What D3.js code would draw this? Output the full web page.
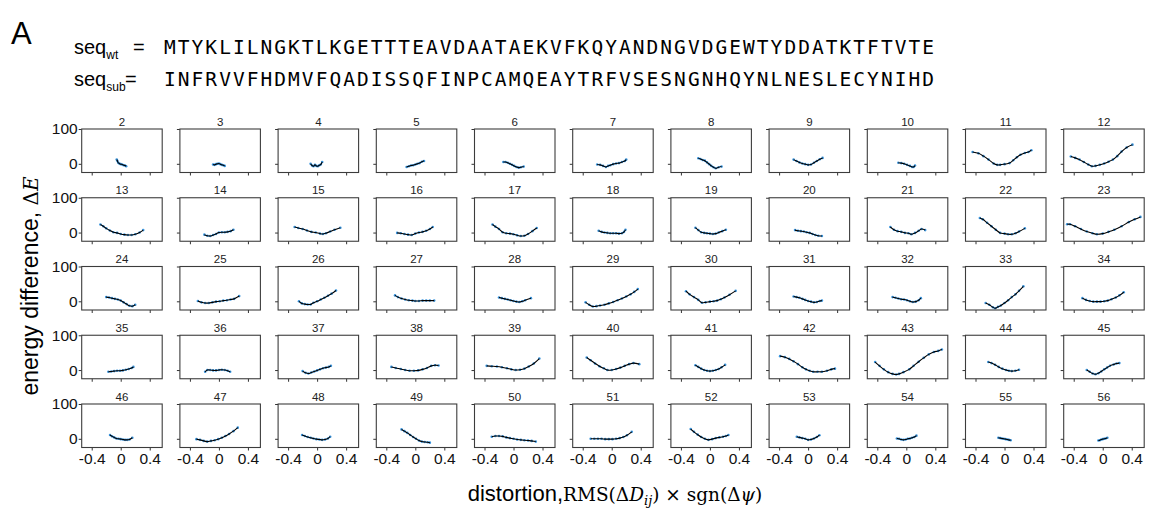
<!DOCTYPE html>
<html><head><meta charset="utf-8">
<script src="https://cdn.jsdelivr.net/npm/d3@7"></script>
<style>body{margin:0;background:#fff} svg{display:block}</style>
</head><body><svg id="c" width="1152" height="512"></svg>
<script>
const panelIds = [2,3,4,5,6,7,8,9,10,11,12,13,14,15,16,17,18,19,20,21,22,23,24,25,26,27,28,29,30,31,32,33,34,35,36,37,38,39,40,41,42,43,44,45,46,47,48,49,50,51,52,53,54,55,56];
const xTicks = [-0.4, 0, 0.4];
const yTicks = [0, 100];
const seqWt  = "MTYKLILNGKTLKGETTTEAVDAATAEKVFKQYANDNGVDGEWTYDDATKTFTVTE";
const seqSub = "INFRVVFHDMVFQADISSQFINPCAMQEAYTRFVSESNGNHQYNLNESLECYNIHD";

// [distortion, energy difference] per panel, rows of 11 panels
const row1 = [
 [[-0.055,12],[-0.045,8],[-0.035,3],[-0.02,1],[0,-1],[0.02,-2],[0.04,-4],[0.06,-5],[0.075,-7]],
 [[-0.08,-2],[-0.06,-3],[-0.04,-1],[-0.02,0],[0,1],[0.02,-1],[0.04,-3],[0.06,-4],[0.08,-6]],
 [[-0.09,0],[-0.07,-5],[-0.05,-7],[-0.03,-3],[-0.01,-6],[0.01,-7],[0.03,-4],[0.05,-2],[0.07,5]],
 [[-0.12,-9],[-0.09,-7],[-0.06,-5],[-0.03,-4],[0,-2],[0.03,0],[0.06,2],[0.09,6],[0.12,8]],
 [[-0.14,5],[-0.11,5],[-0.08,3],[-0.05,0],[-0.02,-3],[0.01,-6],[0.04,-9],[0.07,-11],[0.1,-10],[0.14,-8]],
 [[-0.2,-2],[-0.16,-3],[-0.12,-6],[-0.08,-9],[-0.05,-6],[-0.02,-4],[0.02,-1],[0.06,1],[0.1,2],[0.14,5],[0.18,8],[0.2,12]],
 [[-0.16,16],[-0.13,14],[-0.1,11],[-0.07,9],[-0.04,4],[-0.01,-1],[0.02,-6],[0.05,-10],[0.08,-13],[0.12,-10],[0.16,-8]],
 [[-0.2,12],[-0.16,8],[-0.12,4],[-0.08,1],[-0.04,-1],[0,-3],[0.04,-2],[0.08,3],[0.12,8],[0.16,13],[0.2,17]],
 [[-0.11,3],[-0.07,2],[-0.03,0],[0.01,-3],[0.05,-6],[0.08,-9],[0.1,-9],[0.12,-5]],
 [[-0.44,34],[-0.36,30],[-0.29,22],[-0.22,12],[-0.15,1],[-0.1,-3],[-0.06,-3],[0,-1],[0.07,2],[0.12,10],[0.17,19],[0.22,26],[0.28,31],[0.33,34],[0.37,39]],
 [[-0.44,21],[-0.38,17],[-0.32,12],[-0.26,5],[-0.2,-2],[-0.15,-7],[-0.1,-6],[-0.04,-3],[0.02,1],[0.08,6],[0.14,12],[0.2,22],[0.26,35],[0.33,47],[0.41,55]]
];
const row2 = [
 [[-0.28,23],[-0.24,18],[-0.2,12],[-0.15,6],[-0.1,1],[-0.05,-1],[0,-4],[0.05,-6],[0.1,-7],[0.15,-7],[0.2,-5],[0.26,0],[0.31,7]],
 [[-0.2,-6],[-0.16,-9],[-0.12,-10],[-0.08,-7],[-0.04,-4],[0,0],[0.04,1],[0.08,1],[0.12,2],[0.16,4],[0.2,8]],
 [[-0.31,16],[-0.26,13],[-0.2,10],[-0.14,6],[-0.08,2],[-0.02,0],[0.04,-3],[0.08,-4],[0.12,-2],[0.18,3],[0.24,8],[0.32,14]],
 [[-0.25,-1],[-0.2,-2],[-0.15,-4],[-0.1,-6],[-0.05,-7],[0,-3],[0.05,0],[0.1,2],[0.15,5],[0.2,10],[0.24,16]],
 [[-0.29,23],[-0.25,17],[-0.2,10],[-0.15,1],[-0.1,-2],[-0.05,-3],[0,-5],[0.05,-8],[0.1,-10],[0.15,-9],[0.2,-4],[0.26,4],[0.32,13]],
 [[-0.18,5],[-0.14,2],[-0.1,0],[-0.06,-1],[-0.02,-2],[0.02,-2],[0.06,-2],[0.1,-3],[0.14,-2],[0.17,2],[0.19,8]],
 [[-0.2,14],[-0.16,7],[-0.12,1],[-0.08,-1],[-0.04,-2],[0,-3],[0.04,-4],[0.08,-3],[0.12,0],[0.17,4],[0.22,8]],
 [[-0.18,7],[-0.14,5],[-0.1,4],[-0.06,3],[-0.02,1],[0.02,-1],[0.06,-4],[0.1,-7],[0.14,-9],[0.19,-10]],
 [[-0.22,16],[-0.17,8],[-0.12,4],[-0.07,2],[-0.02,-1],[0.03,-2],[0.07,-5],[0.12,-1],[0.17,5],[0.21,10],[0.26,7]],
 [[-0.34,42],[-0.3,38],[-0.24,28],[-0.18,18],[-0.12,8],[-0.06,-1],[0,-3],[0.05,-5],[0.1,-5],[0.15,-2],[0.2,3],[0.28,12]],
 [[-0.49,24],[-0.45,24],[-0.38,18],[-0.3,10],[-0.22,3],[-0.14,-2],[-0.08,-5],[0,-3],[0.08,2],[0.16,8],[0.26,18],[0.36,30],[0.44,38],[0.52,45]]
];
const row3 = [
 [[-0.2,12],[-0.16,11],[-0.12,9],[-0.08,7],[-0.04,5],[0,2],[0.04,-3],[0.08,-8],[0.12,-13],[0.16,-14],[0.2,-10]],
 [[-0.29,1],[-0.24,-3],[-0.19,-5],[-0.14,-5],[-0.09,-3],[-0.04,-1],[0.01,0],[0.06,2],[0.11,3],[0.16,5],[0.21,7],[0.28,15]],
 [[-0.25,0],[-0.21,-6],[-0.17,-8],[-0.13,-9],[-0.09,-9],[-0.05,-4],[0,0],[0.05,5],[0.1,10],[0.15,16],[0.2,22],[0.26,31]],
 [[-0.28,17],[-0.24,12],[-0.19,8],[-0.14,5],[-0.09,3],[-0.04,2],[0,1],[0.05,1],[0.1,2],[0.15,2],[0.2,2],[0.26,2]],
 [[-0.2,11],[-0.16,9],[-0.12,7],[-0.08,5],[-0.04,3],[0,1],[0.04,-1],[0.08,-2],[0.12,0],[0.16,3],[0.24,9]],
 [[-0.36,-3],[-0.31,-10],[-0.26,-15],[-0.21,-14],[-0.16,-12],[-0.1,-10],[-0.04,-6],[0.02,-2],[0.08,3],[0.14,8],[0.2,14],[0.26,20],[0.31,27],[0.36,35]],
 [[-0.33,29],[-0.28,20],[-0.22,12],[-0.16,4],[-0.11,-4],[-0.06,-3],[0,-1],[0.05,0],[0.1,2],[0.15,6],[0.2,11],[0.27,19],[0.355,30]],
 [[-0.2,14],[-0.16,12],[-0.12,10],[-0.08,7],[-0.04,4],[0,1],[0.04,-1],[0.08,-3],[0.12,-2],[0.16,1],[0.19,2]],
 [[-0.19,12],[-0.15,10],[-0.11,8],[-0.07,6],[-0.03,5],[0.01,3],[0.05,0],[0.09,-2],[0.13,-1],[0.17,3],[0.2,9]],
 [[-0.26,-5],[-0.21,-10],[-0.16,-17],[-0.13,-20],[-0.09,-16],[-0.05,-12],[0,-5],[0.05,3],[0.1,12],[0.15,20],[0.2,30],[0.26,43]],
 [[-0.28,9],[-0.23,4],[-0.18,1],[-0.13,-1],[-0.08,-1],[-0.03,-1],[0.02,0],[0.07,2],[0.12,6],[0.18,11],[0.23,17],[0.29,26]]
];
const row4 = [
 [[-0.17,-5],[-0.13,-4],[-0.09,-3],[-0.05,-2],[-0.01,-2],[0.03,-1],[0.07,1],[0.11,3],[0.15,6],[0.175,9]],
 [[-0.19,-5],[-0.16,0],[-0.12,0],[-0.08,-1],[-0.04,-1],[0,0],[0.04,1],[0.08,0],[0.12,-2],[0.155,-5]],
 [[-0.2,-3],[-0.16,-8],[-0.12,-10],[-0.08,-7],[-0.04,-4],[0,-1],[0.04,2],[0.08,5],[0.12,7],[0.16,9],[0.19,12]],
 [[-0.33,9],[-0.27,6],[-0.2,3],[-0.14,0],[-0.08,-2],[-0.02,-2],[0.04,-1],[0.1,2],[0.16,6],[0.22,12],[0.27,14],[0.32,13]],
 [[-0.37,12],[-0.3,11],[-0.23,10],[-0.16,8],[-0.09,5],[-0.03,2],[0.03,0],[0.09,1],[0.15,4],[0.21,10],[0.28,19],[0.356,33]],
 [[-0.345,36],[-0.29,28],[-0.23,19],[-0.17,11],[-0.11,5],[-0.06,0],[0,0],[0.06,3],[0.12,7],[0.18,12],[0.24,17],[0.3,20],[0.38,17]],
 [[-0.2,14],[-0.16,9],[-0.12,4],[-0.08,0],[-0.04,-2],[0,-3],[0.04,-2],[0.08,0],[0.12,3],[0.16,8],[0.21,15]],
 [[-0.386,40],[-0.32,37],[-0.26,32],[-0.2,25],[-0.14,17],[-0.08,8],[-0.03,2],[0.02,-2],[0.07,-5],[0.13,-5],[0.19,-5],[0.26,-2],[0.32,2],[0.37,4]],
 [[-0.43,23],[-0.37,12],[-0.31,2],[-0.25,-6],[-0.19,-11],[-0.14,-13],[-0.1,-11],[-0.04,-6],[0.04,2],[0.1,12],[0.17,24],[0.24,35],[0.31,45],[0.38,52],[0.44,55],[0.49,59]],
 [[-0.224,23],[-0.18,20],[-0.13,15],[-0.08,9],[-0.03,4],[0.02,0],[0.06,-2],[0.1,-3],[0.15,-2],[0.2,1]],
 [[-0.22,0],[-0.18,-5],[-0.14,-10],[-0.1,-12],[-0.06,-9],[-0.02,-4],[0.02,2],[0.06,7],[0.1,12],[0.15,16],[0.19,19],[0.23,20]]
];
const row5 = [
 [[-0.147,11],[-0.12,7],[-0.09,4],[-0.06,1],[-0.03,0],[0,-1],[0.03,-2],[0.06,-3],[0.09,-3],[0.12,-2],[0.16,3]],
 [[-0.31,-1],[-0.26,-3],[-0.21,-6],[-0.16,-8],[-0.11,-6],[-0.06,-4],[-0.01,-1],[0.04,3],[0.09,8],[0.14,14],[0.2,22],[0.26,32]],
 [[-0.207,11],[-0.17,8],[-0.13,5],[-0.09,3],[-0.05,1],[-0.01,-1],[0.03,-2],[0.07,-3],[0.11,-2],[0.15,1],[0.18,6]],
 [[-0.19,27],[-0.15,22],[-0.11,17],[-0.07,11],[-0.03,5],[0.01,0],[0.05,-5],[0.09,-8],[0.13,-9],[0.17,-10],[0.2,-11]],
 [[-0.3,6],[-0.25,8],[-0.2,8],[-0.15,7],[-0.1,4],[-0.05,2],[0,0],[0.05,-2],[0.1,-3],[0.15,-4],[0.2,-5],[0.25,-6],[0.306,-8]],
 [[-0.29,0],[-0.24,0],[-0.19,0],[-0.14,0],[-0.09,-1],[-0.04,-1],[0.01,-1],[0.06,0],[0.11,2],[0.16,5],[0.21,10],[0.276,20]],
 [[-0.265,28],[-0.22,20],[-0.17,12],[-0.12,5],[-0.07,0],[-0.02,-3],[0.03,-1],[0.08,2],[0.13,4],[0.18,6],[0.22,8],[0.255,11]],
 [[-0.156,6],[-0.12,4],[-0.08,2],[-0.04,0],[0,-3],[0.04,-2],[0.08,1],[0.12,5],[0.156,10]],
 [[-0.13,1],[-0.1,0],[-0.07,-2],[-0.04,-3],[-0.01,-2],[0.02,0],[0.05,1],[0.08,3],[0.11,5],[0.14,9]],
 [[-0.085,3],[-0.06,2],[-0.035,1],[-0.01,0],[0.015,-1],[0.04,-2],[0.06,-3],[0.085,-4]],
 [[-0.06,-5],[-0.04,-4],[-0.02,-2],[0,-1],[0.02,0],[0.04,1],[0.064,3]]
];
const panelData = [].concat(row1, row2, row3, row4, row5);

const svg = d3.select("#c");
const NCOL = 11, NROW = 5;
const W = 80.5, H = 43.5, L0 = 81.7, PX = 98.2, T0 = 129, PY = 68.75;
const SANS = "'Liberation Sans', Arial, Helvetica, sans-serif";
const SERIF = "'DejaVu Serif', 'Liberation Serif', serif";

const x = d3.scaleLinear().domain([-0.538, 0.572]).range([0, W]);
const y = d3.scaleLinear().domain([-25, 100]).range([H, 0]);
const fmt = d => d === 0 ? "0" : String(d);
const line = d3.line().x(d => x(d[0])).y(d => y(d[1])).curve(d3.curveCatmullRom.alpha(0.5));

panelIds.forEach((id, i) => {
  const c = i % NCOL, r = Math.floor(i / NCOL);
  const g = svg.append("g").attr("transform", `translate(${L0 + c * PX},${T0 + r * PY})`);
  const data = panelData[i];

  const ax = d3.axisBottom(x).tickValues(xTicks).tickSize(3).tickPadding(2)
    .tickFormat(r === NROW - 1 ? fmt : () => "");
  const gx = g.append("g").attr("transform", `translate(0,${H})`).call(ax);
  const ay = d3.axisLeft(y).tickValues(yTicks).tickSize(3).tickPadding(1)
    .tickFormat(c === 0 ? fmt : () => "");
  const gy = g.append("g").call(ay);
  [gx, gy].forEach(a => {
    a.select(".domain").remove();
    a.selectAll("line").attr("stroke", "#333");
    a.selectAll("text").attr("fill", "#111").style("font-family", SANS).style("font-size", "15.5px");
  });

  g.selectAll("circle").data(data).join("circle")
    .attr("cx", d => x(d[0])).attr("cy", d => y(d[1])).attr("r", 1.3)
    .attr("fill", "#3a94dc");
  g.append("path").datum(data).attr("d", line)
    .attr("fill", "none").attr("stroke", "#000").attr("stroke-width", 1.1);

  g.append("rect").attr("width", W).attr("height", H)
    .attr("fill", "none").attr("stroke", "#3c3c3c").attr("stroke-width", 1.1);

  g.append("text").attr("x", W / 2).attr("y", -3.5).attr("text-anchor", "middle")
    .style("font-family", SANS).style("font-size", "11.5px").attr("fill", "#222").text(id);
});

// header
svg.append("text").attr("x", 11).attr("y", 44).style("font-family", SANS).style("font-size", "31px").text("A");
function seqLine(yb, sub, seq) {
  const t = svg.append("text").attr("x", 74).attr("y", yb).style("font-family", SANS).style("font-size", "20px");
  t.append("tspan").text("seq");
  t.append("tspan").attr("dy", 5).style("font-size", "12px").text(sub);
  svg.append("text").attr("x", sub === "wt" ? 133 : 125).attr("y", yb).style("font-family", SANS)
    .style("font-size", "20px").text("=");
  svg.append("text").attr("x", 164).attr("y", yb)
    .style("font-family", "'DejaVu Sans Mono', monospace").style("font-size", "19.5px")
    .attr("textLength", 770).attr("lengthAdjust", "spacing").text(seq);
}
seqLine(54, "wt", seqWt);
seqLine(86, "sub", seqSub);

// y label
const yl = svg.append("text").attr("transform", "translate(38,286) rotate(-90)")
  .attr("text-anchor", "middle").style("font-family", SANS).style("font-size", "23px");
yl.append("tspan").text("energy difference,");
yl.append("tspan").style("font-family", SERIF).style("font-size", "20px").text(" Δ");
yl.append("tspan").style("font-family", SERIF).style("font-style", "italic").style("font-size", "20px").text("E");

// x label
const xl = svg.append("text").attr("x", 615).attr("y", 501).attr("text-anchor", "middle")
  .style("font-family", SANS).style("font-size", "22px");
xl.append("tspan").text("distortion,");
const s = xl.append("tspan").style("font-family", SERIF).style("font-size", "18.5px");
s.append("tspan").text("RMS(Δ");
s.append("tspan").style("font-style", "italic").text("D");
s.append("tspan").attr("dy", 4).style("font-size", "13px").style("font-style", "italic").text("ij");
s.append("tspan").attr("dy", -4).text(") × sgn(Δ");
s.append("tspan").style("font-style", "italic").text("ψ");
s.append("tspan").text(")");
</script></body></html>
